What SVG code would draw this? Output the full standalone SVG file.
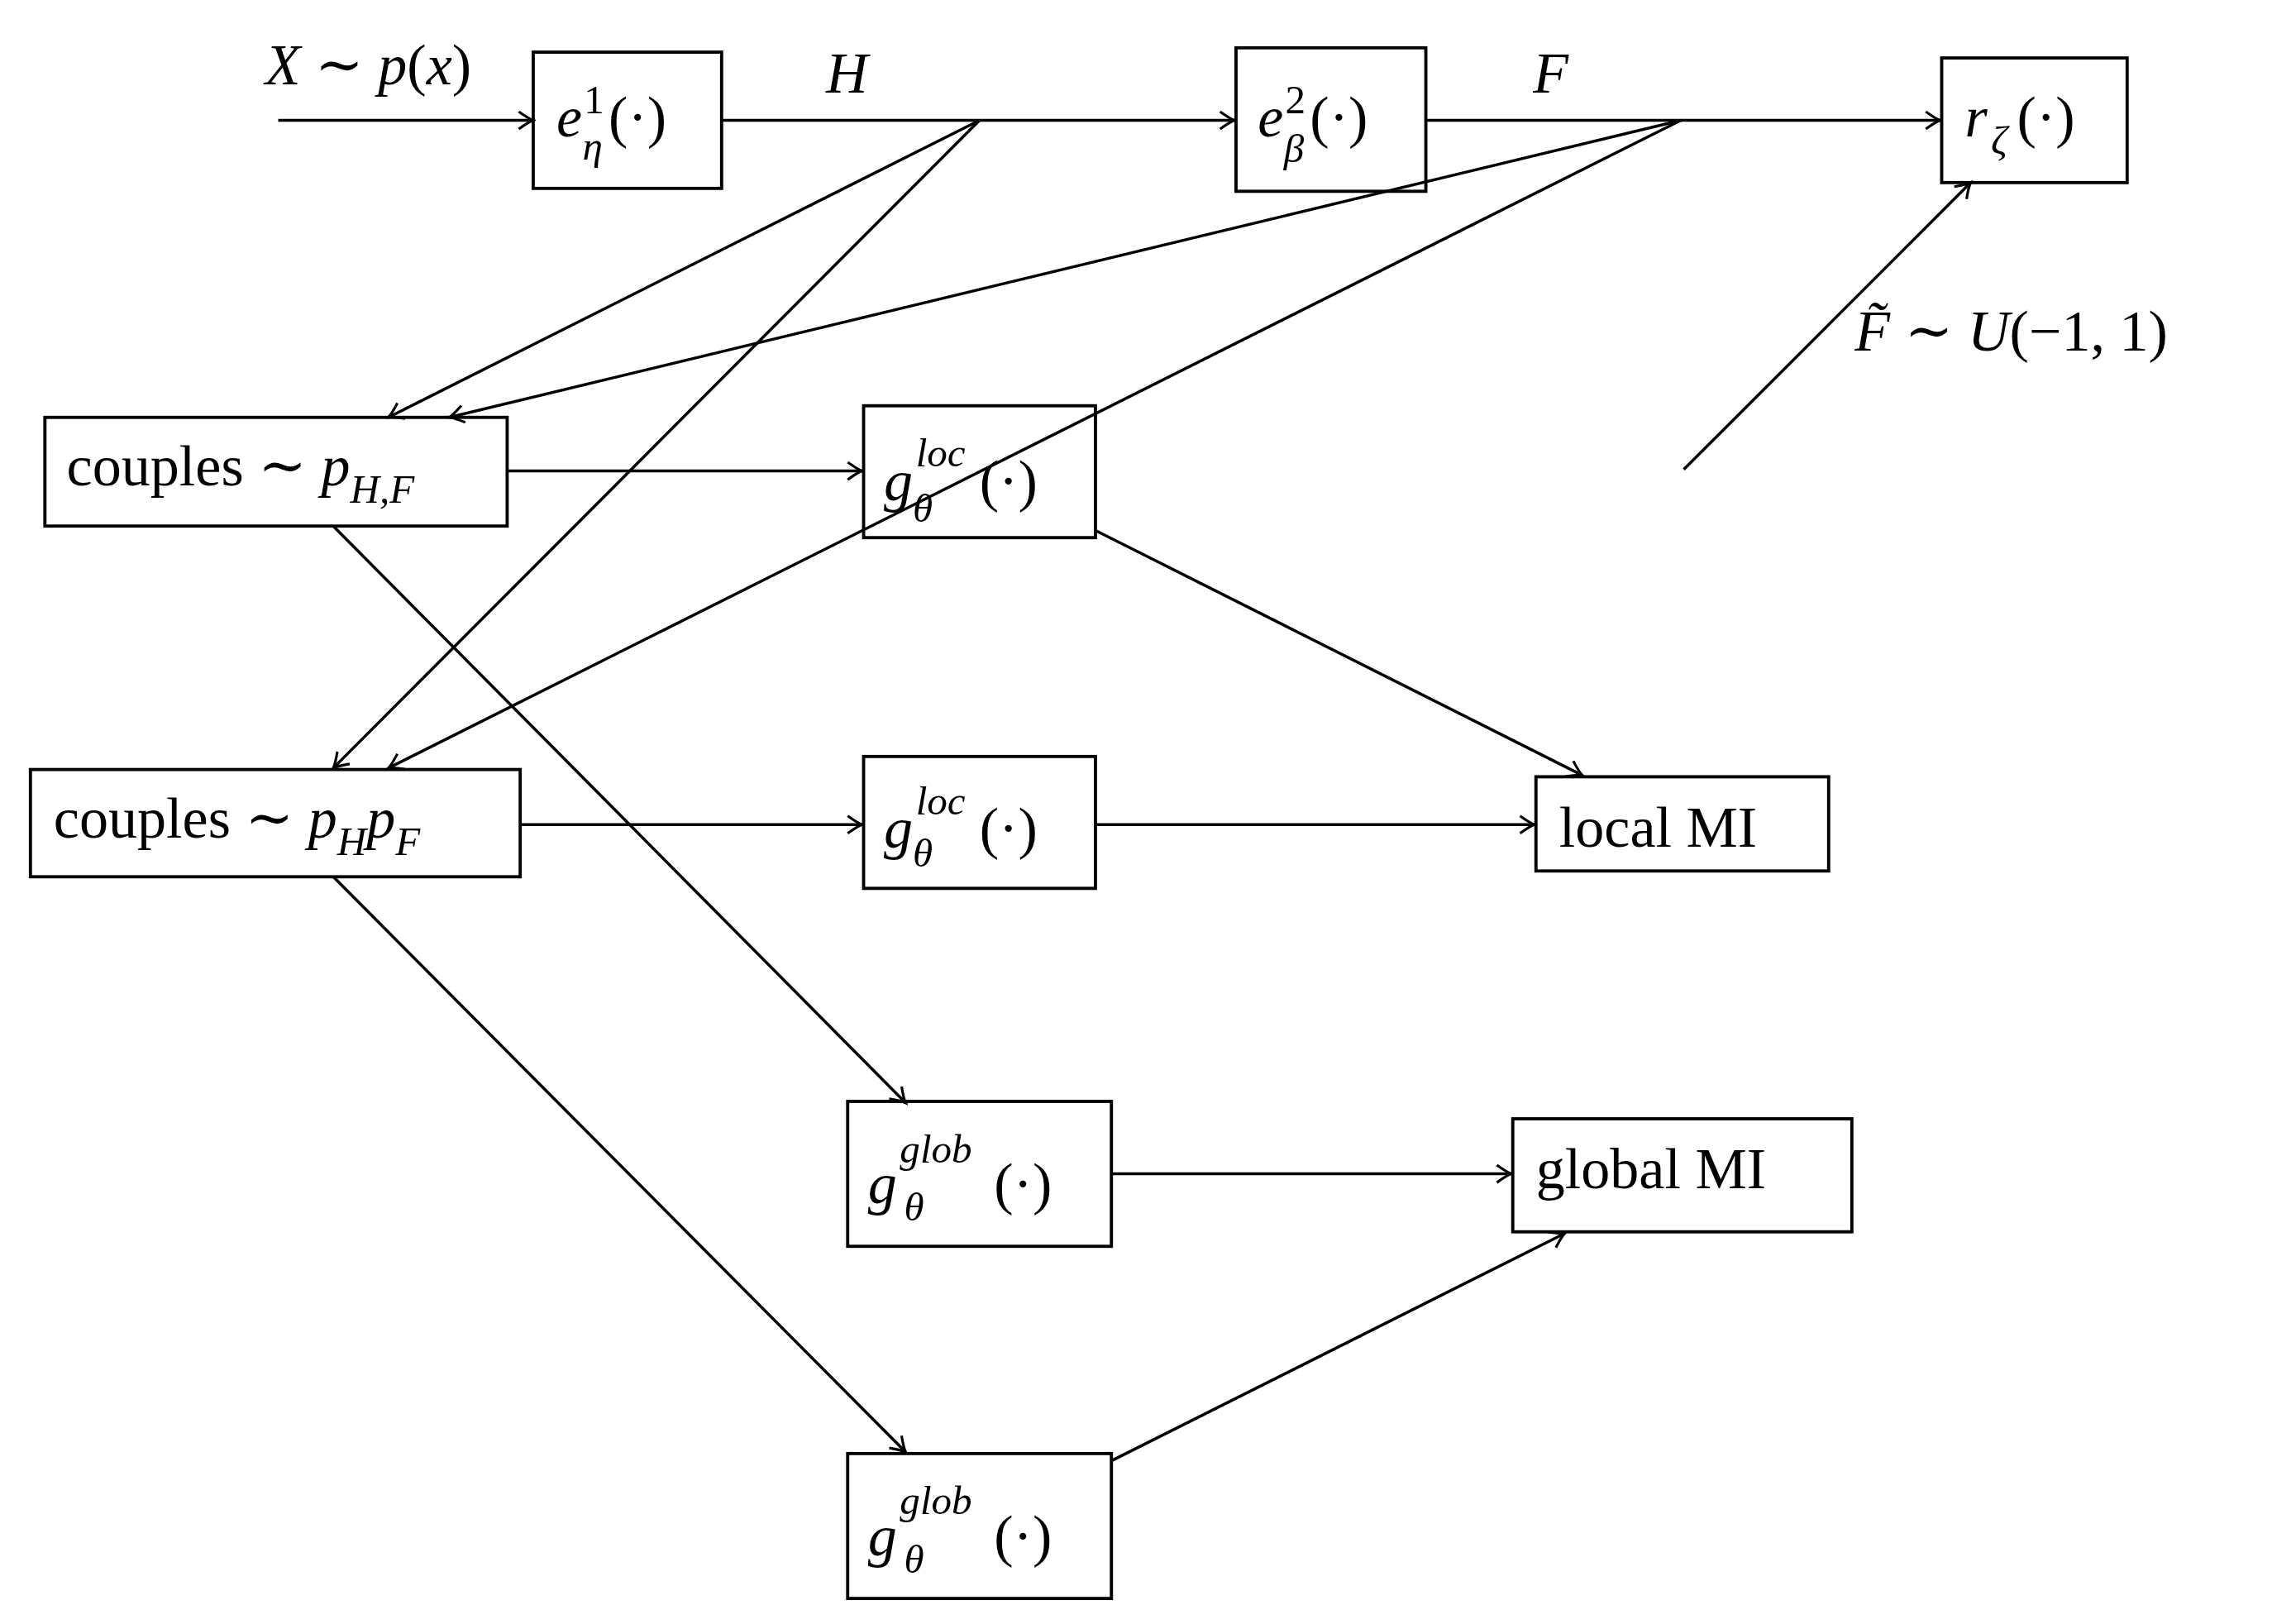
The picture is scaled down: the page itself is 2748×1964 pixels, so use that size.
<svg xmlns="http://www.w3.org/2000/svg" width="2748" height="1964" viewBox="0 0 2748 1964">
<style>
.b{fill:none;stroke:#000;stroke-width:2.2}
.c{fill:none;stroke:#000;stroke-width:2}
text{font-family:"Liberation Serif","DejaVu Serif",serif;fill:#000;font-size:40px}
.i{font-style:italic}
.s{font-size:28px}
</style>
<defs>
<marker id="a" viewBox="-12 -8 14 16" refX="0" refY="0" markerWidth="14" markerHeight="16" markerUnits="userSpaceOnUse" orient="auto">
<path d="M-10,-6 Q-3,-1 0,0 Q-3,1 -10,6" fill="none" stroke="#000" stroke-width="1.8"/>
</marker>
</defs>
<rect width="2748" height="1964" fill="#fff"/>
<g transform="scale(1.7526)">
<g id="connectors" class="c">
<line x1="192" y1="83" x2="368" y2="83" marker-end="url(#a)"/>
<line x1="498" y1="83" x2="852" y2="83" marker-end="url(#a)"/>
<line x1="984" y1="83" x2="1339" y2="83" marker-end="url(#a)"/>
<line x1="1162" y1="324" x2="1360" y2="126" marker-end="url(#a)"/>
<line x1="676" y1="83" x2="268" y2="288" marker-end="url(#a)"/>
<line x1="676" y1="83" x2="230" y2="530" marker-end="url(#a)"/>
<line x1="1160" y1="83" x2="310" y2="288" marker-end="url(#a)"/>
<line x1="1160" y1="83" x2="268" y2="530" marker-end="url(#a)"/>
<line x1="350" y1="325" x2="595" y2="325" marker-end="url(#a)"/>
<line x1="756" y1="366" x2="1092" y2="535" marker-end="url(#a)"/>
<line x1="359" y1="569" x2="595" y2="569" marker-end="url(#a)"/>
<line x1="756" y1="569" x2="1059" y2="569" marker-end="url(#a)"/>
<line x1="230" y1="363" x2="625" y2="761" marker-end="url(#a)"/>
<line x1="767" y1="810" x2="1043" y2="810" marker-end="url(#a)"/>
<line x1="230" y1="605" x2="625" y2="1002" marker-end="url(#a)"/>
<line x1="767" y1="1008" x2="1080" y2="851" marker-end="url(#a)"/>
</g>
<g id="labels">
<text x="183" y="58" class="i">X <tspan font-style="normal">∼</tspan> p<tspan font-style="normal">(</tspan>x<tspan font-style="normal">)</tspan></text>
<text x="570" y="64" class="i">H</text>
<text x="1058" y="64" class="i">F</text>
<text x="1280" y="242" class="i">F̃ <tspan font-style="normal">∼</tspan> U<tspan font-style="normal">(−1, 1)</tspan></text>
</g>
<g id="e1"><rect class="b" x="368" y="36" width="130" height="94"/>
<text x="384" y="94" class="i">e</text><text x="403" y="78" class="s">1</text><text x="402" y="110" class="s i">η</text><text x="420" y="94">(·)</text></g>
<g id="e2"><rect class="b" x="853" y="33" width="131" height="99"/>
<text x="868" y="94" class="i">e</text><text x="887" y="78" class="s">2</text><text x="886" y="112" class="s i">β</text><text x="904" y="94">(·)</text></g>
<g id="r"><rect class="b" x="1340" y="40" width="128" height="86"/>
<text x="1356" y="94" class="i">r</text><text x="1374" y="106" class="s i">ζ</text><text x="1392" y="94">(·)</text></g>
<g id="couplesHF"><rect class="b" x="31" y="288" width="319" height="75"/>
<text x="46" y="335">couples ∼ <tspan class="i">p</tspan><tspan class="s i" dy="12">H,F</tspan></text></g>
<g id="couplesHpF"><rect class="b" x="21" y="531" width="338" height="74"/>
<text x="37" y="578">couples ∼ <tspan class="i">p</tspan><tspan class="s i" dy="12">H</tspan><tspan class="i" dy="-12">p</tspan><tspan class="s i" dy="12">F</tspan></text></g>
<g id="gloc1"><rect class="b" x="596" y="280" width="160" height="91"/>
<text x="610" y="345" class="i">g</text><text x="632" y="322" class="s i">loc</text><text x="630" y="360" class="s i">θ</text><text x="676" y="345">(·)</text></g>
<g id="gloc2"><rect class="b" x="596" y="522" width="160" height="91"/>
<text x="610" y="585" class="i">g</text><text x="632" y="562" class="s i">loc</text><text x="630" y="598" class="s i">θ</text><text x="676" y="585">(·)</text></g>
<g id="localMI"><rect class="b" x="1060" y="536" width="202" height="65"/>
<text x="1076" y="584">local MI</text></g>
<g id="gglob1"><rect class="b" x="585" y="760" width="182" height="100"/>
<text x="599" y="830" class="i">g</text><text x="621" y="802" class="s i">glob</text><text x="624" y="842" class="s i">θ</text><text x="686" y="830">(·)</text></g>
<g id="gglob2"><rect class="b" x="585" y="1003" width="182" height="100"/>
<text x="599" y="1073" class="i">g</text><text x="621" y="1045" class="s i">glob</text><text x="624" y="1085" class="s i">θ</text><text x="686" y="1073">(·)</text></g>
<g id="globalMI"><rect class="b" x="1044" y="772" width="234" height="78"/>
<text x="1060" y="820">global MI</text></g>
</g>
</svg>
